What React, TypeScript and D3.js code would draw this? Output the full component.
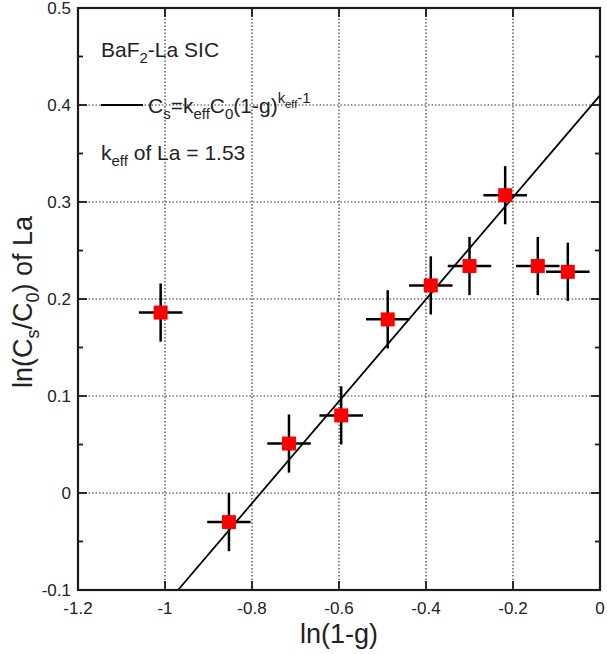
import React from 'react'
import * as d3 from 'd3'

// measured points: ln(1-g) vs ln(Cs/C0) of La
const lnOneMinusG = [-1.01, -0.853, -0.715, -0.595, -0.488, -0.389, -0.3, -0.218, -0.143, -0.074]
const lnCsC0 = [0.186, -0.03, 0.051, 0.08, 0.179, 0.214, 0.234, 0.307, 0.234, 0.228]
const xErr = [0.05, 0.05, 0.05, 0.05, 0.05, 0.05, 0.05, 0.05, 0.05, 0.05]
const yErr = [0.03, 0.03, 0.03, 0.03, 0.03, 0.03, 0.03, 0.03, 0.03, 0.03]

// fit line Cs = keff C0 (1-g)^(keff-1)
const fitX = [-0.97, 0]
const fitY = [-0.1, 0.41]

const xTicks = [-1.2, -1, -0.8, -0.6, -0.4, -0.2, 0]
const yTicks = [-0.1, 0, 0.1, 0.2, 0.3, 0.4, 0.5]
const yMinor = [-0.05, 0.05, 0.15, 0.25, 0.35, 0.45]

const width = 607
const height = 654
const m = { left: 78, top: 8, right: 7, bottom: 64 }
const font = "'Liberation Sans', Arial, sans-serif"

const x = d3.scaleLinear().domain([-1.2, 0]).range([m.left, width - m.right])
const y = d3.scaleLinear().domain([-0.1, 0.5]).range([height - m.bottom, m.top])
const left = x(-1.2)
const right = x(0)
const bottom = y(-0.1)
const top = y(0.5)
const fmt = (d: number) => d3.format('')(d).replace('−', '-')
const line = d3.line<[number, number]>().x(d => x(d[0])).y(d => y(d[1]))

export default function App() {
  const pts = lnOneMinusG.map((d, i) => ({ x: d, y: lnCsC0[i], ex: xErr[i], ey: yErr[i] }))
  const s = 14
  return (
    <svg width={width} height={height} style={{ display: 'block', position: 'absolute', left: 0, top: 0, fontFamily: font }}>
      <rect width={width} height={height} fill="#fff" />

      {/* dotted grid */}
      <g stroke="#333" strokeWidth={1.2} strokeDasharray="1.5,2">
        {xTicks.slice(1, -1).map(t => (
          <line key={'gx' + t} x1={x(t)} x2={x(t)} y1={top} y2={bottom} />
        ))}
        {yTicks.slice(1, -1).map(t => (
          <line key={'gy' + t} x1={left} x2={right} y1={y(t)} y2={y(t)} />
        ))}
      </g>

      <path d={line(fitX.map((d, i) => [d, fitY[i]] as [number, number])) || ''}
        fill="none" stroke="#000" strokeWidth={1.8} />

      {/* error bars */}
      <g stroke="#000" strokeWidth={2.5}>
        {pts.map((d, i) => (
          <g key={i}>
            <line x1={x(d.x - d.ex)} x2={x(d.x + d.ex)} y1={y(d.y)} y2={y(d.y)} />
            <line x1={x(d.x)} x2={x(d.x)} y1={y(d.y - d.ey)} y2={y(d.y + d.ey)} />
          </g>
        ))}
      </g>
      {pts.map((d, i) => (
        <rect key={'p' + i} x={x(d.x) - s / 2} y={y(d.y) - s / 2} width={s} height={s} fill="#ff0000" />
      ))}

      {/* frame and inward ticks */}
      <g stroke="#1a1a1a" strokeWidth={1.8} fill="none">
        <rect x={left} y={top} width={right - left} height={bottom - top} strokeWidth={2.2} />
        {xTicks.slice(1, -1).map(t => (
          <g key={'tx' + t}>
            <line x1={x(t)} x2={x(t)} y1={bottom} y2={bottom - 9} />
            <line x1={x(t)} x2={x(t)} y1={top} y2={top + 9} />
          </g>
        ))}
        {yTicks.slice(1, -1).map(t => (
          <g key={'ty' + t}>
            <line x1={left} x2={left + 9} y1={y(t)} y2={y(t)} />
            <line x1={right} x2={right - 9} y1={y(t)} y2={y(t)} />
          </g>
        ))}
        {yMinor.map(t => (
          <g key={'tm' + t}>
            <line x1={left} x2={left + 5} y1={y(t)} y2={y(t)} />
            <line x1={right} x2={right - 5} y1={y(t)} y2={y(t)} />
          </g>
        ))}
      </g>

      {/* tick labels */}
      <g fill="#222" fontSize={17}>
        {xTicks.map(t => (
          <text key={'lx' + t} x={x(t)} y={bottom + 24} textAnchor="middle">{fmt(t)}</text>
        ))}
        {yTicks.map(t => (
          <text key={'ly' + t} x={left - 7} y={y(t) + 6} textAnchor="end">{fmt(t)}</text>
        ))}
      </g>

      {/* axis titles */}
      <text x={(left + right) / 2} y={643} textAnchor="middle" fontSize={27} fill="#222">ln(1-g)</text>
      <text transform={`translate(32,${(top + bottom) / 2 + 3}) rotate(-90)`} textAnchor="middle" fontSize={27} fill="#222">
        <tspan>ln(C</tspan>
        <tspan fontSize={18} dy={7}>s</tspan>
        <tspan dy={-7}>/C</tspan>
        <tspan fontSize={18} dy={7}>0</tspan>
        <tspan dy={-7}>) of La</tspan>
      </text>

      {/* legend */}
      <g fill="#222" fontSize={21}>
        <text x={101} y={57}>
          <tspan>BaF</tspan>
          <tspan fontSize={15} dy={6}>2</tspan>
          <tspan dy={-6}>-La SIC</tspan>
        </text>
        <line x1={101} x2={143} y1={y(0.4)} y2={y(0.4)} stroke="#000" strokeWidth={1.8} />
        <text x={148} y={113}>
          <tspan>C</tspan>
          <tspan fontSize={15} dy={6}>s</tspan>
          <tspan dy={-6}>=k</tspan>
          <tspan fontSize={15} dy={6}>eff</tspan>
          <tspan dy={-6}>C</tspan>
          <tspan fontSize={15} dy={6}>0</tspan>
          <tspan dy={-6}>(1-g)</tspan>
          <tspan fontSize={15} dy={-10}>k</tspan>
          <tspan fontSize={11} dy={5}>eff</tspan>
          <tspan fontSize={15} dy={-5}>-1</tspan>
        </text>
        <text x={101} y={160}>
          <tspan>k</tspan>
          <tspan fontSize={15} dy={6}>eff</tspan>
          <tspan dy={-6}> of La = 1.53</tspan>
        </text>
      </g>
    </svg>
  )
}
